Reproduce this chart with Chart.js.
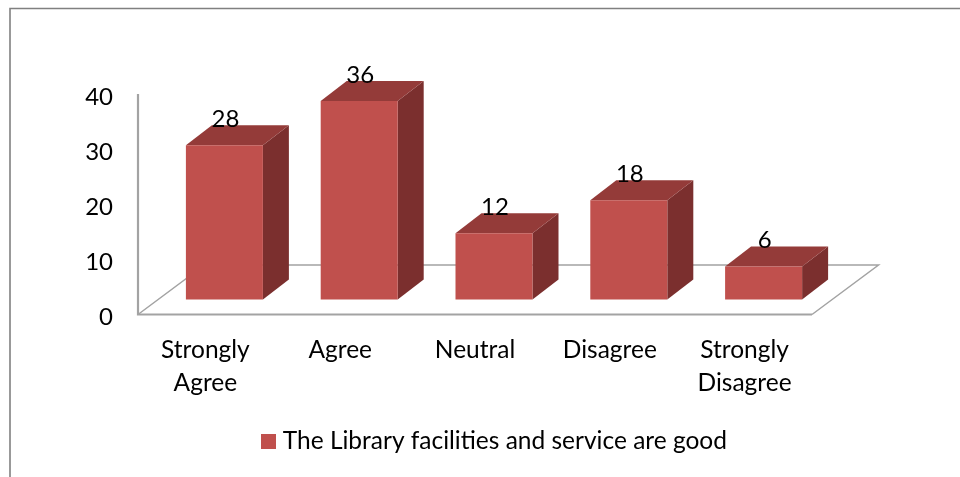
<!DOCTYPE html>
<html><head><meta charset="utf-8">
<style>html,body{margin:0;padding:0;background:#fff}#w{position:relative;width:960px;height:477px}canvas{display:block}</style>
<script src="https://cdn.jsdelivr.net/npm/chart.js@4"></script></head>
<body><div id="w"><canvas id="c" width="960" height="477"></canvas></div>
<script>
const categories=[["Strongly","Agree"],"Agree","Neutral","Disagree",["Strongly","Disagree"]];
const values=[28,36,12,18,6];
const seriesName="The Library facilities and service are good";
const yTicks=[0,10,20,30,40];
const FONT="Lato";
const ox=19,oy=15,dx=26,dy=20,barW=77;
const threeD={id:'threeD',
 beforeDatasetsDraw(ch){
  const {ctx,chartArea:a}=ch;
  ctx.save();ctx.strokeStyle='#a3a3a3';ctx.lineWidth=1.5;
  const bx=66.5,by=49.5;
  ctx.beginPath();
  ctx.moveTo(a.right,a.bottom);ctx.lineTo(a.right+bx,a.bottom-by);ctx.lineTo(a.left+bx,a.bottom-by);ctx.lineTo(a.left,a.bottom);
  ctx.stroke();
  ctx.lineWidth=2.2;ctx.beginPath();
  ctx.moveTo(a.left,a.top);ctx.lineTo(a.left,a.bottom);ctx.lineTo(a.right,a.bottom);
  ctx.stroke();ctx.restore();
 },
 beforeDatasetDraw(ch,args){
  const {ctx}=ch;
  const meta=args.meta;
  meta.data.forEach((b,i)=>{
   const l=b.x+ox-barW/2,r=l+barW,t=b.y-oy,bot=b.base-oy;
   const poly=(p,f)=>{ctx.beginPath();p.forEach((q,j)=>j?ctx.lineTo(q[0],q[1]):ctx.moveTo(q[0],q[1]));ctx.closePath();ctx.fillStyle=f;ctx.fill();};
   poly([[r,t],[r+dx,t-dy],[r+dx,bot-dy],[r,bot]],'#7b2f2e');
   poly([[l,t],[l+dx,t-dy],[r+dx,t-dy],[r,t]],'#943b39');
   poly([[l,t],[r,t],[r,bot],[l,bot]],'#c0504d');
  });
  return false;
 },
 afterDatasetsDraw(ch){
  const {ctx}=ch;
  const meta=ch.getDatasetMeta(0);
  ctx.save();ctx.fillStyle='#000';ctx.font='24px '+FONT;ctx.textAlign='center';ctx.textBaseline='middle';
  meta.data.forEach((b,i)=>ctx.fillText(String(values[i]),b.x+ox+1,b.y-oy-26));
  ctx.restore();
 }};
const swatch=document.createElement('canvas');swatch.width=15;swatch.height=15;
const sc=swatch.getContext('2d');sc.fillStyle='#c0504d';sc.fillRect(0,0,15,15);
const cv=document.getElementById('c');
cv.getContext('2d').letterSpacing='0.37px';
new Chart(cv,{type:'bar',
 data:{labels:categories,datasets:[{label:seriesName,data:values,backgroundColor:'#c0504d',borderWidth:0}]},
 options:{responsive:false,animation:false,
  layout:{padding:{left:0,right:148,top:94,bottom:0}},
  plugins:{tooltip:{enabled:false},legend:{display:true,position:'bottom',align:'start',
    labels:{color:'#000',font:{family:FONT,size:24.5},usePointStyle:true,pointStyle:swatch,pointStyleWidth:4,padding:12}}},
  scales:{
   x:{afterFit(s){s.height=116;},grid:{display:false,drawTicks:false},border:{display:false},ticks:{color:'#000',font:{family:FONT,size:24.5,lineHeight:1.347},padding:19,maxRotation:0,autoSkip:false}},
   y:{min:0,max:40,afterFit(s){s.width=138;},afterBuildTicks(s){s.ticks=yTicks.map(v=>({value:v}));},grid:{display:false,drawTicks:false},border:{display:false},
      ticks:{color:'#000',font:{family:FONT,size:24,lineHeight:'6px'},padding:25,callback:v=>['',String(v)]}}
  }
 },
 plugins:[threeD,{id:'frame',
  afterLayout(ch){const g=ch.legend;g.left=254.5;g.right=960;g.top=417;},
  beforeDraw(ch){const c=ch.ctx;c.save();c.strokeStyle='#808080';c.lineWidth=1.6;c.beginPath();c.moveTo(10,477);c.lineTo(10,8.5);c.lineTo(960,8.5);c.stroke();c.restore();}}]
});
</script></body></html>
